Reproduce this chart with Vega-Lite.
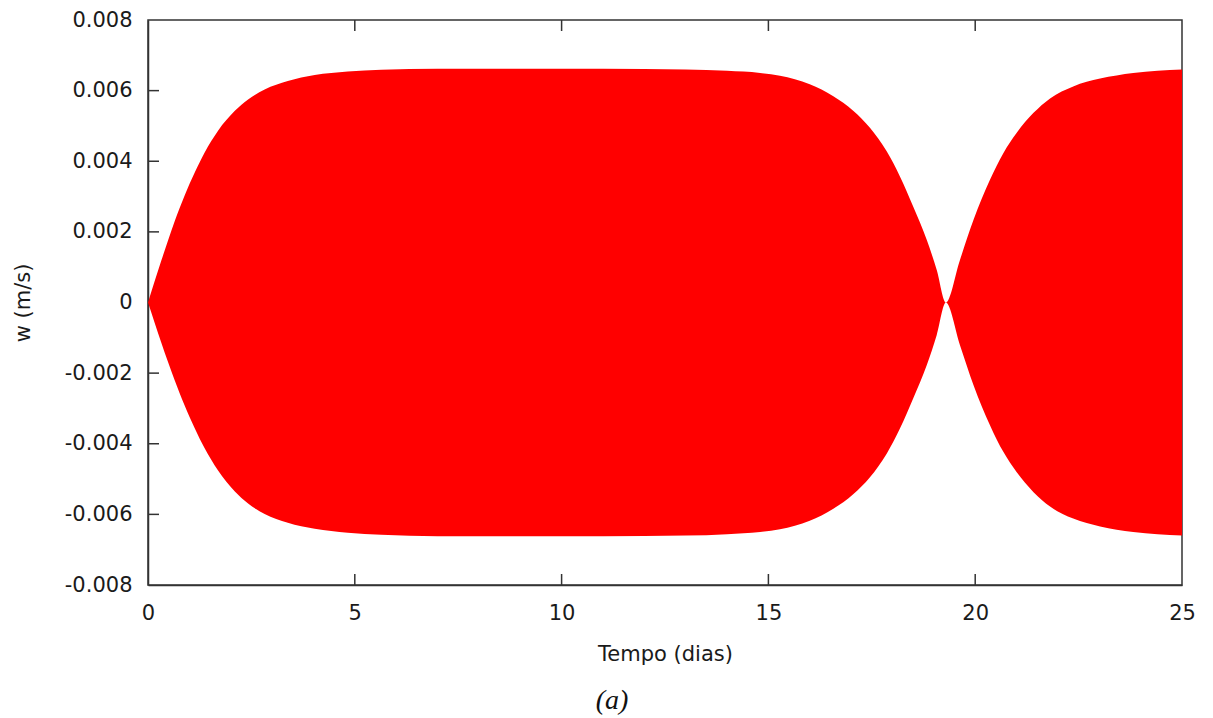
{
  "$schema": "https://vega.github.io/schema/vega-lite/v6.json",
  "width": 1034,
  "height": 565,
  "autosize": {"type": "none"},
  "padding": {"left": 148, "top": 20, "right": 31, "bottom": 133},
  "background": "white",
  "title": {
    "text": "(a)",
    "orient": "bottom",
    "anchor": "middle",
    "font": "Liberation Serif",
    "fontStyle": "italic",
    "fontWeight": "normal",
    "fontSize": 28,
    "color": "#111111",
    "offset": 23,
    "dx": -53
  },
  "config": {
    "view": {"stroke": "#333333", "strokeWidth": 1.5},
    "axis": {
      "grid": false,
      "ticks": false,
      "domainColor": "#333333",
      "domainWidth": 1.5,
      "labelFont": "DejaVu Sans",
      "labelFontSize": 21,
      "labelColor": "#1a1a1a",
      "titleFont": "DejaVu Sans",
      "titleFontSize": 21,
      "titleFontWeight": "normal",
      "titleColor": "#1a1a1a"
    }
  },
  "datasets": {
    "envelope": [
      {"t": 0, "up": 0, "lo": 0},
      {"t": 0.16, "up": 0.0006, "lo": -0.00057},
      {"t": 0.32, "up": 0.00118, "lo": -0.00113},
      {"t": 0.48, "up": 0.00174, "lo": -0.00167},
      {"t": 0.645, "up": 0.0023, "lo": -0.0022},
      {"t": 0.886, "up": 0.00303, "lo": -0.00292},
      {"t": 1.13, "up": 0.00368, "lo": -0.00356},
      {"t": 1.37, "up": 0.00425, "lo": -0.00413},
      {"t": 1.69, "up": 0.00486, "lo": -0.00475},
      {"t": 2.1, "up": 0.00543, "lo": -0.00535},
      {"t": 2.42, "up": 0.00575, "lo": -0.00569},
      {"t": 2.82, "up": 0.00603, "lo": -0.00599},
      {"t": 3.38, "up": 0.00627, "lo": -0.00624},
      {"t": 4.03, "up": 0.00644, "lo": -0.00641},
      {"t": 4.83, "up": 0.00654, "lo": -0.00652},
      {"t": 5.64, "up": 0.00659, "lo": -0.00658},
      {"t": 7.0, "up": 0.00662, "lo": -0.00662},
      {"t": 9.0, "up": 0.00662, "lo": -0.00662},
      {"t": 11.0, "up": 0.00662, "lo": -0.00662},
      {"t": 13.0, "up": 0.0066, "lo": -0.0066},
      {"t": 14.0, "up": 0.00656, "lo": -0.00656},
      {"t": 14.8, "up": 0.0065, "lo": -0.0065},
      {"t": 15.28, "up": 0.00642, "lo": -0.00642},
      {"t": 16.0, "up": 0.00618, "lo": -0.00618},
      {"t": 16.57, "up": 0.00584, "lo": -0.00584},
      {"t": 17.05, "up": 0.00543, "lo": -0.00543},
      {"t": 17.46, "up": 0.00494, "lo": -0.00494},
      {"t": 17.86, "up": 0.00428, "lo": -0.00428},
      {"t": 18.18, "up": 0.00357, "lo": -0.00357},
      {"t": 18.5, "up": 0.00272, "lo": -0.00272},
      {"t": 18.83, "up": 0.00177, "lo": -0.00177},
      {"t": 19.07, "up": 0.00092, "lo": -0.00092},
      {"t": 19.29, "up": 0, "lo": 0},
      {"t": 19.63, "up": 0.0012, "lo": -0.0012},
      {"t": 19.96, "up": 0.00234, "lo": -0.00234},
      {"t": 20.36, "up": 0.00348, "lo": -0.00348},
      {"t": 20.68, "up": 0.00423, "lo": -0.00423},
      {"t": 21.0, "up": 0.0048, "lo": -0.0048},
      {"t": 21.41, "up": 0.00537, "lo": -0.00537},
      {"t": 21.81, "up": 0.00578, "lo": -0.00578},
      {"t": 22.37, "up": 0.00612, "lo": -0.00612},
      {"t": 23.02, "up": 0.00634, "lo": -0.00634},
      {"t": 23.82, "up": 0.0065, "lo": -0.0065},
      {"t": 25.0, "up": 0.0066, "lo": -0.0066}
    ],
    "xticks": [
      {"t": 5, "up": -0.008}, {"t": 10, "up": -0.008}, {"t": 15, "up": -0.008}, {"t": 20, "up": -0.008},
      {"t": 5, "up": 0.008}, {"t": 10, "up": 0.008}, {"t": 15, "up": 0.008}, {"t": 20, "up": 0.008}
    ],
    "yticks": [
      {"up": -0.006, "t": 0}, {"up": -0.004, "t": 0}, {"up": -0.002, "t": 0},
      {"up": 0.002, "t": 0}, {"up": 0.004, "t": 0}, {"up": 0.006, "t": 0}
    ]
  },
  "layer": [
    {
      "data": {"name": "envelope"},
      "mark": {"type": "area", "color": "#ff0000", "interpolate": "monotone"},
      "encoding": {
        "x": {
          "field": "t", "type": "quantitative",
          "scale": {"domain": [0, 25], "nice": false, "zero": false},
          "axis": {
            "orient": "bottom",
            "title": "Tempo (dias)",
            "values": [0, 5, 10, 15, 20, 25],
            "labelPadding": 17,
            "labelDx": 3,
            "labelFlush": false,
            "titleY": 75,
            "titleBaseline": "alphabetic",
            "titlePadding": 0
          }
        },
        "y": {
          "field": "up", "type": "quantitative",
          "scale": {"domain": [-0.008, 0.008], "nice": false, "zero": false},
          "axis": {
            "orient": "left",
            "title": "w (m/s)",
            "values": [-0.008, -0.006, -0.004, -0.002, 0, 0.002, 0.004, 0.006, 0.008],
            "labelExpr": "toString(datum.value)",
            "labelPadding": 16,
            "labelFlush": false,
            "titleX": -125,
            "titleY": 282.5,
            "titleAngle": -90,
            "titleAlign": "center",
            "titleBaseline": "middle"
          }
        },
        "y2": {"field": "lo"}
      }
    },
    {
      "data": {"name": "xticks"},
      "mark": {"type": "tick", "orient": "vertical", "size": 22, "thickness": 1.5, "color": "#333333", "opacity": 1, "clip": true},
      "encoding": {
        "x": {"field": "t", "type": "quantitative"},
        "y": {"field": "up", "type": "quantitative"}
      }
    },
    {
      "data": {"name": "yticks"},
      "mark": {"type": "tick", "orient": "horizontal", "size": 22, "thickness": 1.5, "color": "#333333", "opacity": 1, "clip": true},
      "encoding": {
        "x": {"field": "t", "type": "quantitative"},
        "y": {"field": "up", "type": "quantitative"}
      }
    }
  ]
}
